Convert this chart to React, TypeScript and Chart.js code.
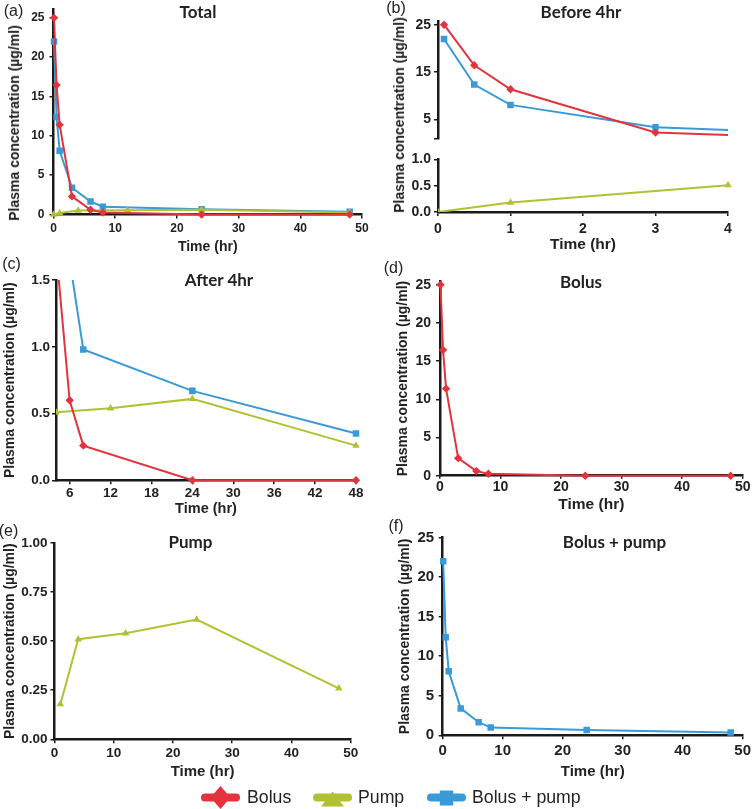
import React, { useEffect, useRef } from "react";
import { Chart, registerables } from "chart.js";

Chart.register(...registerables);

const FONT = "'Liberation Sans', Arial, Helvetica, sans-serif";
const TITLE_FONT = "Lato, 'Open Sans', 'Liberation Sans', sans-serif";
const RED = "#e3343e";
const GREEN = "#b1c132";
const BLUE = "#3a9ad8";
const AXIS = "#1a1a1a";
const TEXT = "#222222";

// ---- data (time in hr, concentration in µg/ml) ----
const bolusTimes = [0.083, 0.5, 1, 3, 6, 8, 24, 48];
const bolusValues = [25, 16.45, 11.4, 2.3, 0.6, 0.26, 0, 0];
const comboTimes = [0.083, 0.5, 1, 3, 6, 8, 24, 48];
const comboValues = [22, 12.4, 8.1, 3.4, 1.65, 0.98, 0.67, 0.35];
const pumpTimes = [0, 1, 4, 12, 24, 48];
const pumpValues = [0, 0.18, 0.51, 0.54, 0.61, 0.26];

// ---- tick labels ----
const xTicksFull = [0, 10, 20, 30, 40, 50];
const xTicksBefore = [0, 1, 2, 3, 4];
const xTicksAfter = [6, 12, 18, 24, 30, 36, 42, 48];
const yTicksMain = [0, 5, 10, 15, 20, 25];
const yTicksUpper = [1, 5, 15, 25];
const yTicksLower = [0, 0.5, 1];
const yTicksAfter = [0, 0.5, 1, 1.5];
const yTicksPump = [0, 0.25, 0.5, 0.75, 1];

const Y_TITLE = "Plasma concentration (µg/ml)";
const X_TITLE = "Time (hr)";

type Series = { label: string; xs: number[]; ys: number[]; color: string; style: string; radius: number };

const bolus: Series = { label: "Bolus", xs: bolusTimes, ys: bolusValues, color: RED, style: "rectRot", radius: 4.2 };
const pump: Series = { label: "Pump", xs: pumpTimes, ys: pumpValues, color: GREEN, style: "triangle", radius: 4.3 };
const pumpFromOne: Series = { ...pump, xs: pumpTimes.slice(1), ys: pumpValues.slice(1) };
const combo: Series = { label: "Bolus + pump", xs: comboTimes, ys: comboValues, color: BLUE, style: "rect", radius: 4.6 };

const int = (v: number) => String(Math.round(v));
const one = (v: number) => v.toFixed(1);
const two = (v: number) => v.toFixed(2);

type Spec = {
  key: string;
  area: { l: number; t: number; r: number; b: number };
  series: Series[];
  clip: { left: number; top: number; right: number; bottom: number };
  tickSize: number;
  x: { min: number; max: number; ticks: number[]; fmt: (v: number) => string; display: boolean; titleY?: number; titleSize?: number; pad?: number; tickLen?: number };
  y: { min: number; max: number; ticks: number[]; fmt: (v: number) => string; titleX?: number; pad: number };
};

const CL = { left: 8, top: 8, right: 8, bottom: 8 };

const specs: Spec[] = [
  {
    key: "a",
    area: { l: 53.5, t: 7, r: 362, b: 214.5 },
    series: [bolus, pump, combo],
    clip: CL,
    tickSize: 12,
    x: { min: 0, max: 50, ticks: xTicksFull, fmt: int, display: true, titleY: 246.7, titleSize: 14, pad: 2.5 },
    y: { min: 0, max: 26.1, ticks: yTicksMain, fmt: int, pad: 5 },
  },
  {
    key: "b-upper",
    area: { l: 438, t: 20.7, r: 728, b: 144 },
    series: [bolus, combo],
    clip: { left: 8, top: 8, right: 0, bottom: 0 },
    tickSize: 14,
    x: { min: 0, max: 4, ticks: xTicksBefore, fmt: int, display: false },
    y: { min: 1, max: 25.7, ticks: yTicksUpper, fmt: (v) => (v === 1 ? "" : int(v)), pad: 3 },
  },
  {
    key: "b-lower",
    area: { l: 438, t: 158.3, r: 728, b: 212 },
    series: [pump],
    clip: { left: 0, top: 8, right: 8, bottom: 0 },
    tickSize: 14,
    x: { min: 0, max: 4, ticks: xTicksBefore, fmt: int, display: true, titleY: 245, titleSize: 15.5, pad: 4.5 },
    y: { min: 0, max: 1, ticks: yTicksLower, fmt: one, pad: 3 },
  },
  {
    key: "c",
    area: { l: 56, t: 280, r: 356, b: 480.3 },
    series: [bolus, pump, combo],
    clip: { left: 0, top: 0, right: 8, bottom: 8 },
    tickSize: 13.5,
    x: { min: 4, max: 48, ticks: xTicksAfter, fmt: int, display: true, titleY: 509, titleSize: 14.5, pad: 0.5 },
    y: { min: 0, max: 1.5, ticks: yTicksAfter, fmt: one, titleX: 10.3, pad: 2 },
  },
  {
    key: "d",
    area: { l: 440, t: 278.3, r: 742.7, b: 475.7 },
    series: [bolus],
    clip: CL,
    tickSize: 14,
    x: { min: 0, max: 50, ticks: xTicksFull, fmt: int, display: true, titleY: 505, titleSize: 15.5, pad: 0, tickLen: 3 },
    y: { min: 0, max: 25.44, ticks: yTicksMain, fmt: int, titleX: 402.7, pad: 5 },
  },
  {
    key: "e",
    area: { l: 54.5, t: 542.3, r: 350.7, b: 739.3 },
    series: [pumpFromOne],
    clip: CL,
    tickSize: 13.5,
    x: { min: 0, max: 50, ticks: xTicksFull, fmt: int, display: true, titleY: 772, titleSize: 15, pad: 1.5 },
    y: { min: 0, max: 1, ticks: yTicksPump, fmt: two, titleX: 10, pad: 3 },
  },
  {
    key: "f",
    area: { l: 442.7, t: 534, r: 742.7, b: 735.3 },
    series: [combo],
    clip: CL,
    tickSize: 15,
    x: { min: 0, max: 50, ticks: xTicksFull, fmt: int, display: true, titleY: 772, titleSize: 15, pad: 2.5 },
    y: { min: 0, max: 25, ticks: yTicksMain, fmt: int, titleX: 405, pad: 4.5 },
  },
];

const Y_TITLE_SIZE = 14;

function geometry(s: Spec) {
  const yHalf = (Y_TITLE_SIZE * 1.2) / 2;
  const left = s.y.titleX != null ? Math.floor(s.y.titleX - yHalf - 3) : Math.floor(s.area.l - 50);
  const yTitlePad = s.y.titleX != null ? s.y.titleX - yHalf - left : 0;
  const top = Math.floor(s.area.t - 10);
  const right = Math.ceil(s.area.r + 16);
  let bottom: number;
  let xTitlePad = 0;
  if (s.x.display) {
    const xHalf = ((s.x.titleSize || 14) * 1.2) / 2;
    bottom = Math.ceil(s.x.titleY! + xHalf);
    xTitlePad = bottom - s.x.titleY! - xHalf;
  } else {
    bottom = Math.ceil(s.area.b + 6);
  }
  return {
    left,
    top,
    width: right - left,
    height: bottom - top,
    W: s.area.l - left,
    H: s.x.display ? bottom - s.area.b : 0,
    padTop: s.area.t - top,
    padRight: right - s.area.r,
    padBottom: s.x.display ? 0 : bottom - s.area.b,
    yTitlePad,
    xTitlePad,
  };
}

function SubChart({ spec }: { spec: Spec }) {
  const ref = useRef<HTMLCanvasElement>(null);
  const g = geometry(spec);
  useEffect(() => {
    const tickFont = { family: FONT, size: spec.tickSize, weight: "bold" as const };
    const chart = new Chart(ref.current!, {
      type: "line",
      data: {
        datasets: spec.series.map((s) => ({
          label: s.label,
          data: s.xs.map((x, i) => ({ x, y: s.ys[i] })),
          borderColor: s.color,
          backgroundColor: s.color,
          borderWidth: 2,
          pointStyle: s.style as any,
          pointRadius: s.radius,
          pointHoverRadius: s.radius,
          pointBorderWidth: 0,
          tension: 0,
          fill: false,
          clip: spec.clip as any,
        })),
      },
      options: {
        animation: false,
        responsive: false,
        devicePixelRatio: 1,
        events: [],
        layout: {
          autoPadding: false,
          padding: { top: g.padTop, right: g.padRight, left: 0, bottom: g.padBottom },
        },
        plugins: { legend: { display: false }, tooltip: { enabled: false }, title: { display: false } },
        scales: {
          x: {
            type: "linear",
            position: "bottom",
            display: spec.x.display,
            min: spec.x.min,
            max: spec.x.max,
            afterBuildTicks: (sc: any) => {
              sc.ticks = spec.x.ticks.map((v) => ({ value: v }));
            },
            afterFit: (sc: any) => {
              sc.height = g.H;
            },
            border: { display: true, color: AXIS, width: 2.5 },
            grid: { display: true, drawOnChartArea: false, drawTicks: true, tickLength: spec.x.tickLen ?? 4, color: AXIS, lineWidth: 1.5 },
            ticks: {
              color: TEXT,
              font: tickFont,
              padding: spec.x.pad ?? 3,
              maxRotation: 0,
              minRotation: 0,
              autoSkip: false,
              callback: (v: any) => spec.x.fmt(Number(v)),
            },
            title: {
              display: spec.x.display,
              text: X_TITLE,
              color: TEXT,
              font: { family: FONT, size: spec.x.titleSize || 14, weight: "bold" },
              padding: { top: 0, bottom: g.xTitlePad },
            },
          },
          y: {
            type: "linear",
            position: "left",
            min: spec.y.min,
            max: spec.y.max,
            afterBuildTicks: (sc: any) => {
              sc.ticks = spec.y.ticks.map((v) => ({ value: v }));
            },
            afterFit: (sc: any) => {
              sc.width = g.W;
            },
            border: { display: true, color: AXIS, width: 2.5 },
            grid: { display: true, drawOnChartArea: false, drawTicks: true, tickLength: 4, color: AXIS, lineWidth: 1.5 },
            ticks: {
              color: TEXT,
              font: tickFont,
              padding: spec.y.pad,
              autoSkip: false,
              callback: (v: any) => spec.y.fmt(Number(v)),
            },
            title: {
              display: spec.y.titleX != null,
              text: Y_TITLE,
              color: TEXT,
              font: { family: FONT, size: Y_TITLE_SIZE, weight: "bold" },
              padding: { top: g.yTitlePad, bottom: 0 },
            },
          },
        },
      },
    } as any);
    return () => chart.destroy();
  }, []);
  return (
    <canvas
      ref={ref}
      width={g.width}
      height={g.height}
      style={{ position: "absolute", left: g.left, top: g.top, width: g.width, height: g.height }}
    />
  );
}

type Label = { text: string; x: number; y: number; size: number; bold?: boolean; family?: string; rotate?: boolean };

const overlayText: Label[] = [
  { text: "(a)", x: 13.5, y: 11, size: 16 },
  { text: "(b)", x: 396, y: 8, size: 16 },
  { text: "(c)", x: 11.5, y: 264, size: 16 },
  { text: "(d)", x: 393.5, y: 268, size: 16 },
  { text: "(e)", x: 8.5, y: 531, size: 16 },
  { text: "(f)", x: 396, y: 526, size: 16 },
  { text: "Total", x: 198, y: 11, size: 17, bold: true, family: TITLE_FONT },
  { text: "Before 4hr", x: 581, y: 11, size: 17, bold: true, family: TITLE_FONT },
  { text: "After 4hr", x: 219, y: 278.5, size: 17, bold: true, family: TITLE_FONT },
  { text: "Bolus", x: 581, y: 281, size: 17, bold: true, family: TITLE_FONT },
  { text: "Pump", x: 190.5, y: 541, size: 17, bold: true, family: TITLE_FONT },
  { text: "Bolus + pump", x: 614.5, y: 541, size: 17, bold: true, family: TITLE_FONT },
  { text: Y_TITLE, x: 14, y: 122.5, size: Y_TITLE_SIZE, bold: true, rotate: true },
  { text: Y_TITLE, x: 398.5, y: 114.5, size: Y_TITLE_SIZE, bold: true, rotate: true },
];

const legendItems = [
  { label: "Bolus", color: RED, x0: 201, x1: 240, textX: 247, shape: "diamond" },
  { label: "Pump", color: GREEN, x0: 313, x1: 352, textX: 358, shape: "triangle" },
  { label: "Bolus + pump", color: BLUE, x0: 427, x1: 466, textX: 472, shape: "square" },
];

function Legend() {
  const cy = 797.5;
  return (
    <>
      <svg width={752} height={40} style={{ position: "absolute", left: 0, top: 780 }} viewBox="0 780 752 40">
        {legendItems.map((it) => {
          const cx = (it.x0 + it.x1) / 2;
          let marker: any = null;
          if (it.shape === "diamond")
            marker = <polygon points={`${cx},${cy - 11.5} ${cx + 10},${cy} ${cx},${cy + 11.5} ${cx - 10},${cy}`} fill={it.color} />;
          else if (it.shape === "triangle")
            marker = <polygon points={`${cx},${cy - 6} ${cx + 11.5},${cy + 9} ${cx - 11.5},${cy + 9}`} fill={it.color} />;
          else marker = <rect x={cx - 6.7} y={cy - 7} width={13.4} height={15} fill={it.color} />;
          return (
            <g key={it.label}>
              <line x1={it.x0 + 4} y1={cy} x2={it.x1 - 4} y2={cy} stroke={it.color} strokeWidth={8} strokeLinecap="round" />
              {marker}
            </g>
          );
        })}
      </svg>
      {legendItems.map((it) => (
        <div
          key={it.label}
          style={{
            position: "absolute",
            left: it.textX,
            top: 797.5,
            transform: "translateY(-50%)",
            font: `17.7px ${FONT}`,
            color: TEXT,
            whiteSpace: "nowrap",
            lineHeight: 1,
          }}
        >
          {it.label}
        </div>
      ))}
    </>
  );
}

export default function App() {
  return (
    <div
      style={{
        position: "fixed",
        left: 0,
        top: 0,
        width: 752,
        height: 809,
        background: "#ffffff",
        overflow: "hidden",
      }}
    >
      {specs.map((s) => (
        <SubChart key={s.key} spec={s} />
      ))}
      {overlayText.map((t, i) => (
        <div
          key={i}
          style={{
            position: "absolute",
            left: t.x,
            top: t.y,
            transform: `translate(-50%, -50%)${t.rotate ? " rotate(-90deg)" : ""}`,
            font: `${t.bold ? "bold " : ""}${t.size}px ${t.family || FONT}`,
            color: TEXT,
            whiteSpace: "nowrap",
            lineHeight: 1,
          }}
        >
          {t.text}
        </div>
      ))}
      <Legend />
    </div>
  );
}
